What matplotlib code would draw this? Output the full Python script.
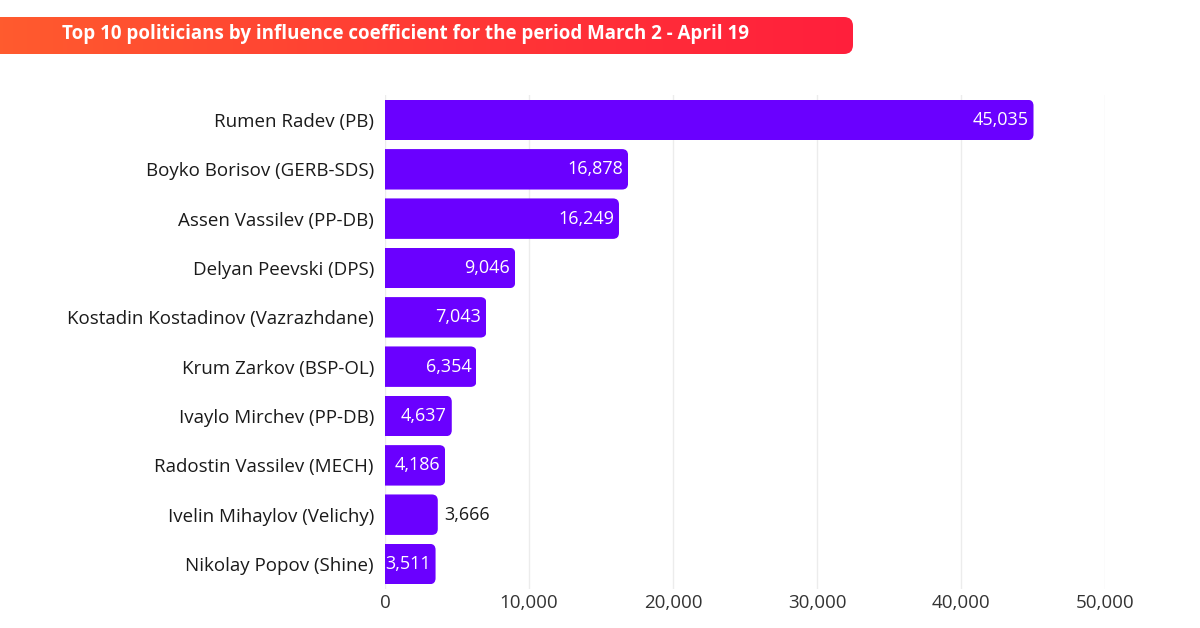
import matplotlib
matplotlib.use("Agg")
import matplotlib.pyplot as plt
import numpy as np
from matplotlib.patches import FancyBboxPatch
from matplotlib.colors import LinearSegmentedColormap

politicians = [
    "Rumen Radev (PB)",
    "Boyko Borisov (GERB-SDS)",
    "Assen Vassilev (PP-DB)",
    "Delyan Peevski (DPS)",
    "Kostadin Kostadinov (Vazrazhdane)",
    "Krum Zarkov (BSP-OL)",
    "Ivaylo Mirchev (PP-DB)",
    "Radostin Vassilev (MECH)",
    "Ivelin Mihaylov (Velichy)",
    "Nikolay Popov (Shine)",
]
influence = [45035, 16878, 16249, 9046, 7043, 6354, 4637, 4186, 3666, 3511]
label_outside = [False, False, False, False, False, False, False, False, True, False]
xticks = [0, 10000, 20000, 30000, 40000, 50000]
title = "Top 10 politicians by influence coefficient for the period March 2 - April 19"

plt.rcParams["font.family"] = ["Open Sans", "DejaVu Sans"]

W, H = 1200, 628
fig = plt.figure(figsize=(W / 100, H / 100), dpi=100)
fig.patch.set_facecolor("white")

# title banner with gradient, rounded on the right
bx0, bx1, by0, by1 = 0, 853, 17, 54
bax = fig.add_axes([bx0 / W, 1 - by1 / H, (bx1 - bx0) / W, (by1 - by0) / H])
bax.set_xlim(0, bx1 - bx0)
bax.set_ylim(0, by1 - by0)
bax.axis("off")
grad = np.linspace(0, 1, 256).reshape(1, -1)
cmap = LinearSegmentedColormap.from_list("banner", ["#ff5b2e", "#ff3a35", "#ff1f3c"])
img = bax.imshow(grad, cmap=cmap, extent=[0, bx1 - bx0, 0, by1 - by0], aspect="auto")
clip = FancyBboxPatch((-20, 0), bx1 - bx0 + 20, by1 - by0,
                      boxstyle="round,pad=0,rounding_size=9",
                      transform=bax.transData, facecolor="none", edgecolor="none")
bax.add_patch(clip)
img.set_clip_path(clip)
bax.text(62, (by1 - by0) / 2 + 1, title, color="white", fontsize=13.5,
         fontweight="bold", va="center", ha="left")

# main chart
ax_l, ax_r = 385, 1105
ax_t, ax_b = 95.3, 588.7
ax = fig.add_axes([ax_l / W, 1 - ax_b / H, (ax_r - ax_l) / W, (ax_b - ax_t) / H])
xmax = 50000
n = len(politicians)
ax.set_xlim(0, xmax)
ax.set_ylim(n - 0.5, -0.5)

bar_h = 0.82
color = "#6a00ff"
px_x = xmax / (ax_r - ax_l)
px_y = n / (ax_b - ax_t)
r = 6 * px_x
ypos = np.arange(n)

bars = ax.barh(ypos, influence, height=bar_h, color=color, linewidth=0, zorder=3)
# round the right end only: clip each bar to a rounded box reaching past x=0
for b in bars:
    y0 = b.get_y()
    w = b.get_width()
    cp = FancyBboxPatch((-4 * r, y0), w + 4 * r, bar_h,
                        boxstyle=f"round,pad=0,rounding_size={r}",
                        mutation_aspect=px_y / px_x,
                        transform=ax.transData, facecolor="none", edgecolor="none")
    b.set_clip_path(cp)

for y, v, out in zip(ypos, influence, label_outside):
    txt = f"{v:,}"
    if out:
        ax.text(v + 6 * px_x, y, txt, ha="left", va="center", color="#1a1a1a",
                fontsize=13, zorder=4)
    else:
        ax.text(v - 5 * px_x, y, txt, ha="right", va="center", color="white",
                fontsize=13, zorder=4)

ax.set_yticks(ypos)
ax.set_yticklabels(politicians, fontsize=13.5, color="#1a1a1a")
ax.set_xticks(xticks)
ax.set_xticklabels([f"{t:,}" for t in xticks], fontsize=13.5, color="#333333")
ax.tick_params(axis="both", length=0)
ax.tick_params(axis="y", pad=8)
ax.tick_params(axis="x", pad=4)
ax.grid(axis="x", color="#ececec", linewidth=1, zorder=0)
for s in ax.spines.values():
    s.set_visible(False)
ax.set_facecolor("none")

fig.savefig("out.png", dpi=100, facecolor="white")
